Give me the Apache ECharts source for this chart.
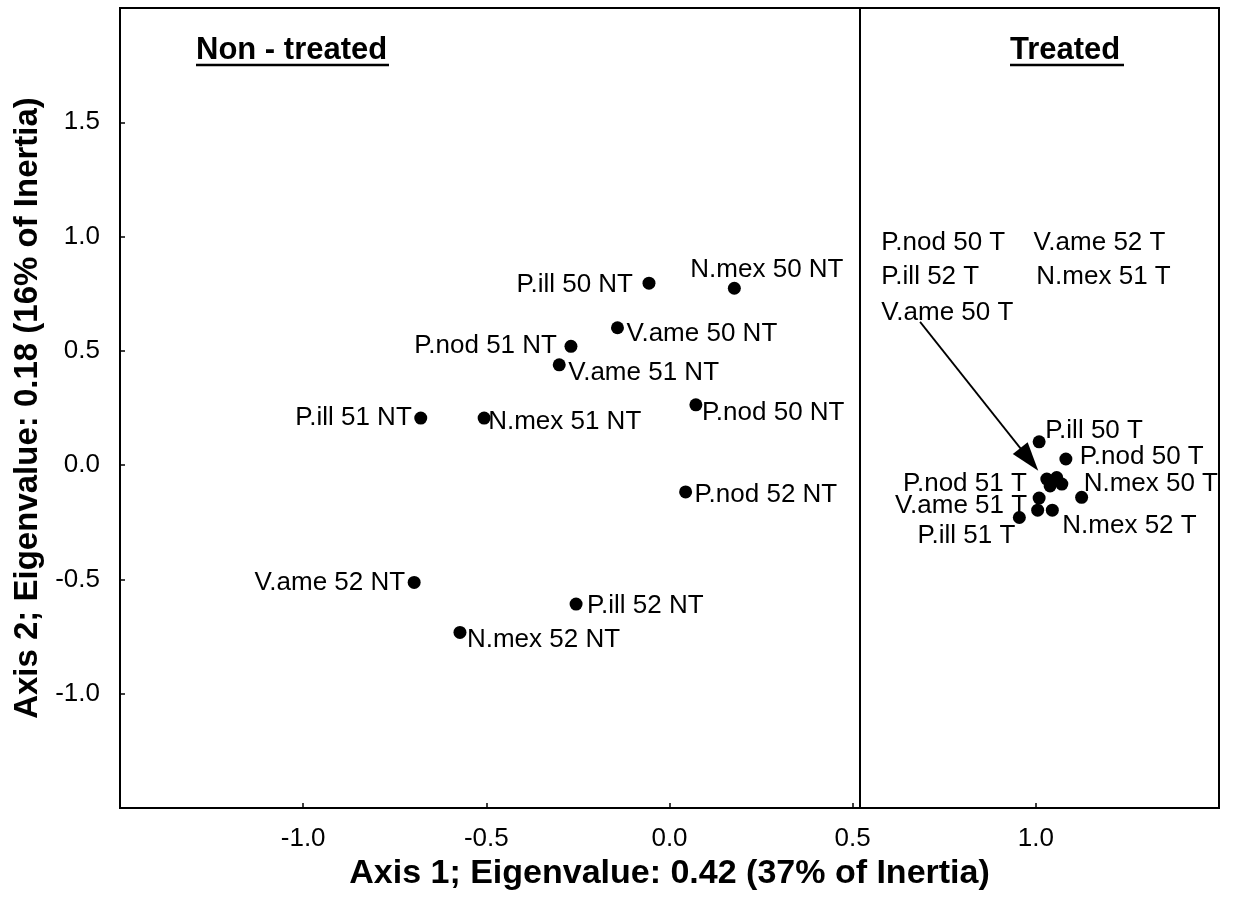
<!DOCTYPE html>
<html>
<head>
<meta charset="utf-8">
<script src="https://cdn.jsdelivr.net/npm/echarts@6/dist/echarts.min.js"></script>
<style>
html,body{margin:0;padding:0;background:#fff;}
#chart{width:1233px;height:907px;}
</style>
</head>
<body>
<div id="chart"></div>
<script>
// ---- data ----
var ntNames = ['P.ill 50 NT','N.mex 50 NT','V.ame 50 NT','P.nod 51 NT','V.ame 51 NT','P.nod 50 NT','P.ill 51 NT','N.mex 51 NT','P.nod 52 NT','V.ame 52 NT','P.ill 52 NT','N.mex 52 NT'];
var ntX = [-0.056, 0.177, -0.142, -0.269, -0.301, 0.072, -0.679, -0.506, 0.044, -0.697, -0.255, -0.572];
var ntY = [0.796, 0.774, 0.601, 0.520, 0.439, 0.264, 0.206, 0.206, -0.117, -0.513, -0.608, -0.732];

var tNames = ['P.ill 50 T','P.nod 50 T','P.nod 51 T','N.mex 50 T','V.ame 51 T','N.mex 52 T','P.ill 51 T','P.nod 50 T','V.ame 52 T','P.ill 52 T','N.mex 51 T','V.ame 50 T'];
var tX = [1.009, 1.082, 1.030, 1.125, 1.009, 1.045, 0.955, 1.057, 1.071, 1.039, 1.005, 1.039];
var tY = [0.102, 0.027, -0.061, -0.141, -0.144, -0.197, -0.229, -0.054, -0.083, -0.091, -0.197, -0.074];

// names of treated points listed in the block (upper right), pointed to by the arrow
var listNames = ['P.nod 50 T','V.ame 52 T','P.ill 52 T','N.mex 51 T','V.ame 50 T'];
var listX = [0.577, 0.992, 0.577, 1.000, 0.577];
var listY = [0.974, 0.974, 0.822, 0.822, 0.665];

var arrowFrom = [0.684, 0.627];
var arrowTo = [0.982, 0.025];
var dividerX = 0.519;

var xTicks = {min: -1.5, max: 1.5, interval: 0.5};
var yTicks = {min: -1.5, max: 2.0, interval: 0.5};

var xTitle = 'Axis 1; Eigenvalue: 0.42 (37% of Inertia)';
var yTitle = 'Axis 2; Eigenvalue: 0.18 (16% of Inertia)';
var groupTitles = ['Non - treated', 'Treated'];

// ---- label layout (style only) ----
var ntLayout = [
  ['right',-16,2],['left',-44,-18],['left',9,6],['right',-14,0],['left',9,8],['left',6,8],
  ['right',-9,0],['left',4,4],['left',9,3],['right',-9,0],['left',11,2],['left',7,7]
];
var tLayout = [
  ['left',6,-11],['left',14,-2],['right',-20,5],['left',2,-14],['right',-12,8],['left',10,16],['right',-4,18],
  null,null,null,null,null
];

var FONT = '"Liberation Sans", Arial, sans-serif';

function mkLabel(l){
  if(!l) return {show:false};
  return {show:true, formatter:'{b}', position:['50%','50%'], align:l[0], verticalAlign:'middle', offset:[l[1],l[2]],
    color:'#000', opacity:1, fontSize:26, fontFamily:FONT};
}
function buildData(names, xs, ys, layout){
  return names.map(function(n,i){
    return {name:n, value:[xs[i], ys[i]], label: mkLabel(layout[i])};
  });
}

var chart = echarts.init(document.getElementById('chart'), null, {renderer:'canvas'});
var fmt = function(min,max){ return function(v){ if (Math.abs(v-min)<1e-9 || Math.abs(v-max)<1e-9) return ''; return v.toFixed(1); }; };

var option = {
  backgroundColor:'#fff',
  animation:false,
  grid:{left:120, right:14, top:8, bottom:99, show:true, borderColor:'#000', borderWidth:2, backgroundColor:'transparent'},
  xAxis:{
    type:'value', min:xTicks.min, max:xTicks.max, interval:xTicks.interval,
    name:xTitle, nameLocation:'middle', nameGap:41,
    nameTextStyle:{fontSize:34, fontWeight:'bold', color:'#000', fontFamily:FONT},
    axisLine:{show:true, onZero:false, lineStyle:{color:'#000', width:2}},
    axisTick:{show:true, inside:true, length:5, lineStyle:{color:'#000', width:1.5}},
    axisLabel:{color:'#000', fontSize:26, fontFamily:FONT, margin:18, formatter:fmt(xTicks.min,xTicks.max)},
    splitLine:{show:false}
  },
  yAxis:{
    type:'value', min:yTicks.min, max:yTicks.max, interval:yTicks.interval,
    name:yTitle, nameLocation:'middle', nameGap:66, nameRotate:90,
    nameTextStyle:{fontSize:33, fontWeight:'bold', color:'#000', fontFamily:FONT},
    axisLine:{show:true, onZero:false, lineStyle:{color:'#000', width:2}},
    axisTick:{show:true, inside:true, length:5, lineStyle:{color:'#000', width:1.5}},
    axisLabel:{color:'#000', fontSize:26, fontFamily:FONT, margin:20, formatter:fmt(yTicks.min,yTicks.max)},
    splitLine:{show:false}
  },
  graphic:[
    {type:'text', left:196, top:35, style:{text:groupTitles[0], fill:'#000', font:'bold 31px "Liberation Sans", Arial, sans-serif'}},
    {type:'line', shape:{x1:196, y1:65, x2:389, y2:65}, style:{stroke:'#000', lineWidth:2.5}},
    {type:'text', left:1010, top:35, style:{text:groupTitles[1], fill:'#000', font:'bold 31px "Liberation Sans", Arial, sans-serif'}},
    {type:'line', shape:{x1:1010, y1:65, x2:1124, y2:65}, style:{stroke:'#000', lineWidth:2.5}}
  ],
  series:[
    {
      type:'scatter', name:'Non-treated', symbol:'circle', symbolSize:13,
      itemStyle:{color:'#000', opacity:1},
      data: buildData(ntNames, ntX, ntY, ntLayout),
      markLine:{
        silent:true, symbol:['none','none'], label:{show:false},
        lineStyle:{color:'#000', width:2, type:'solid', opacity:1},
        data:[{xAxis:dividerX}]
      },
      z:3
    },
    {
      type:'scatter', name:'Treated', symbol:'circle', symbolSize:13,
      itemStyle:{color:'#000', opacity:1},
      data: buildData(tNames, tX, tY, tLayout),
      markLine:{
        silent:true, symbol:['none','triangle'], symbolSize:[19,29], label:{show:false},
        lineStyle:{color:'#000', width:1.8, type:'solid', opacity:1},
        itemStyle:{color:'#000'},
        data:[[{coord:arrowFrom},{coord:arrowTo}]]
      },
      z:3
    },
    {
      type:'scatter', name:'List', symbol:'circle', symbolSize:1,
      itemStyle:{color:'rgba(0,0,0,0)', opacity:1},
      data: listNames.map(function(n,i){return {name:n, value:[listX[i], listY[i]]};}),
      label:{show:true, position:'right', distance:0, formatter:'{b}', color:'#000', opacity:1, fontSize:26, fontFamily:FONT},
      silent:true
    }
  ]
};
chart.setOption(option);
</script>
</body>
</html>
